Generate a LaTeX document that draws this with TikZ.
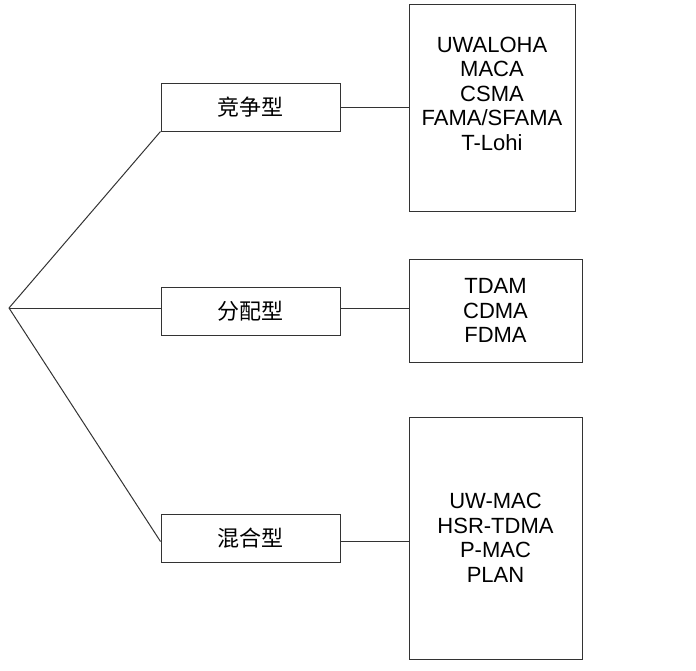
\documentclass[tikz,border=0pt]{standalone}
\usepackage{fontspec}
\setmainfont{Liberation Sans}
\newfontfamily\cjk{Noto Sans CJK SC}
\usetikzlibrary{positioning}

\tikzset{
  catbox/.style={draw=black!80,line width=1pt,minimum width=179pt,minimum height=48pt,
    inner sep=0pt,font=\cjk\fontsize{22}{26}\selectfont},
  listbox/.style={draw=black!80,line width=1pt,inner sep=0pt,align=center,
    font=\fontsize{22}{24.5}\selectfont},
  link/.style={draw=black!80,line width=1pt}
}

\begin{document}
\begin{tikzpicture}[x=1pt,y=-1pt]
\useasboundingbox (0,0) rectangle (696,670);
% root point
\coordinate (root) at (9,308);
% categories
\node[catbox] (jz) at (250.5,107) {竞争型};
\node[catbox] (fp) at (250.5,311) {分配型};
\node[catbox] (hh) at (250.5,538.5) {混合型};
% protocol lists
\node[listbox,minimum width=166pt,minimum height=207pt] (list1) at (492,107.5) {};
\node[listbox,draw=none,anchor=north,yshift=-33pt] (txt1) at (list1.north)
  {UWALOHA\\MACA\\CSMA\\FAMA/SFAMA\\T-Lohi};
\node[listbox,minimum width=173pt,minimum height=103pt] (list2) at (495.5,310.5)
  {TDAM\\CDMA\\FDMA};
\node[listbox,minimum width=173pt,minimum height=242pt] (list3) at (495.5,538)
  {UW-MAC\\HSR-TDMA\\P-MAC\\PLAN};
% connectors
\draw[link] (root) -- (jz.south west);
\draw[link] (root) -- (root -| fp.west);
\draw[link] (root) -- ([yshift=-3pt]hh.west);
\draw[link] (jz.east) -- (jz.east -| list1.west);
\draw[link] ([yshift=3pt]fp.east) -- ([yshift=3pt]fp.east -| list2.west);
\draw[link] ([yshift=-3pt]hh.east) -- ([yshift=-3pt]hh.east -| list3.west);
\end{tikzpicture}
\end{document}
